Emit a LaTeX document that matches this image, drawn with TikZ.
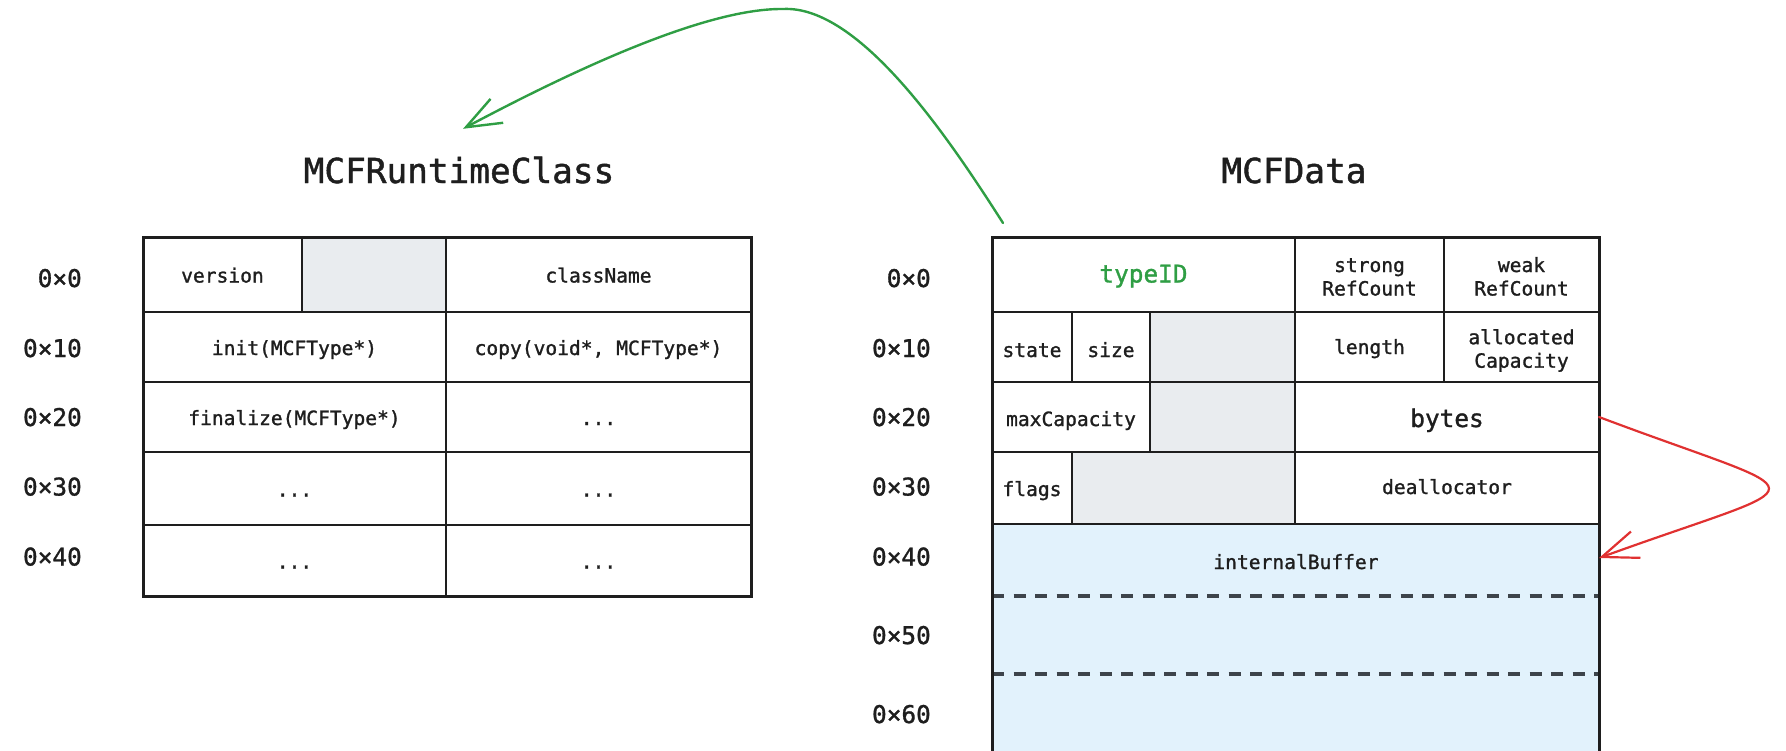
\documentclass[tikz,border=0pt]{standalone}
\usepackage{fontspec}
\usetikzlibrary{arrows.meta}

\newfontfamily\codefont{DejaVu Sans Mono}[FakeBold=1.3]
\newcommand{\fTitle}{\codefont\fontsize{34.4}{40}\selectfont}
\newcommand{\fLabel}{\codefont\fontsize{24.4}{29}\selectfont}
\newcommand{\fCell}{\codefont\fontsize{19.6}{23.5}\selectfont}
\newcommand{\fBig}{\codefont\fontsize{24.4}{29}\selectfont}

\definecolor{ink}{HTML}{1E1E1E}
\definecolor{greyfill}{HTML}{E9ECEF}
\definecolor{bufblue}{HTML}{E2F2FC}
\definecolor{linkgreen}{HTML}{2F9E44}
\definecolor{linkred}{HTML}{E03131}
\definecolor{dashgrey}{HTML}{3D444B}

% one table cell: [options]{name}{x1}{y1}{x2}{y2}{text}
\newcommand{\mcell}[7][]{%
  \node[cell,minimum width={#5-#3},minimum height={#6-#4},#1] (#2)
    at ({(#3+#5)/2},{(#4+#6)/2}) {#7};}

\begin{document}
\begin{tikzpicture}[x=1pt,y=-1pt,
  cell/.style={draw=ink,line width=2.4pt,inner sep=0pt,outer sep=0pt,
    font=\fCell,text=ink,align=center,text height=16pt,text depth=0pt},
  greycell/.style={cell,fill=greyfill},
  rowlabel/.style={font=\fLabel,text=ink,inner sep=0pt,anchor=base east},
  title/.style={font=\fTitle,text=ink,inner sep=0pt,anchor=base,
    text height=26pt,text depth=8pt},
  plain/.style={font=\fCell,text=ink,inner sep=0pt,anchor=base},
  edge/.style={draw=ink,line width=3pt},
  dashline/.style={draw=dashgrey,line width=3.2pt,dash pattern=on 12pt off 9.5pt},
  greenlink/.style={draw=linkgreen,line width=2.4pt,line cap=round,line join=round,
    -{Straight Barb[length=35pt,width=27pt]}},
  redlink/.style={draw=linkred,line width=2.2pt,line cap=round,line join=round,
    -{Straight Barb[length=36pt,width=28pt]}},
]
\useasboundingbox (0,0) rectangle (1786,750);

% ---------------- titles ----------------
\node[title] (rtitle) at (459,183) {MCFRuntimeClass};
\node[title] (dtitle) at (1294,183) {MCFData};

% ---------------- MCFRuntimeClass ----------------
\mcell{ver}{143}{237}{302}{312}{version}
\mcell[greycell]{lpad}{302}{237}{446}{312}{}
\mcell{cname}{446}{237}{751}{312}{className}
\mcell{init}{143}{312}{446}{382}{init(MCFType*)}
\mcell{copy}{446}{312}{751}{382}{copy(void*, MCFType*)}
\mcell{fin}{143}{382}{446}{452}{finalize(MCFType*)}
\mcell{lrb}{446}{382}{751}{452}{...}
\mcell{lsa}{143}{452}{446}{525}{...}
\mcell{lsb}{446}{452}{751}{525}{...}
\mcell{lta}{143}{525}{446}{596}{...}
\mcell{ltb}{446}{525}{751}{596}{...}
\draw[edge] (ver.north west) rectangle (ltb.south east);

\node[rowlabel] (la) at (82,287) {0×0};
\node[rowlabel] (lb) at (82,357) {0×10};
\node[rowlabel] (lc) at (82,426) {0×20};
\node[rowlabel] (ld) at (82,495.5) {0×30};
\node[rowlabel] (le) at (82,565.5) {0×40};

% ---------------- MCFData ----------------
\mcell[font=\fBig,text=linkgreen]{typeid}{992}{237}{1295}{312}{typeID}
\mcell[text height=42pt,text depth=0pt]{strong}{1295}{237}{1444}{312}{strong\\RefCount}
\mcell[text height=42pt,text depth=0pt]{weak}{1444}{237}{1599}{312}{weak\\RefCount}
\mcell[text height=20pt]{state}{992}{312}{1072}{382}{state}
\mcell[text height=20pt]{size}{1072}{312}{1150}{382}{size}
\mcell[greycell]{rpada}{1150}{312}{1295}{382}{}
\mcell[text height=14pt]{length}{1295}{312}{1444}{382}{length}
\mcell[text height=41.4pt,text depth=0pt]{alloc}{1444}{312}{1599}{382}{allocated\\Capacity}
\mcell[text height=18pt]{maxcap}{992}{382}{1150}{452}{maxCapacity}
\mcell[greycell]{rpadb}{1150}{382}{1295}{452}{}
\mcell[font=\fBig,text height=20pt]{bytes}{1295}{382}{1599}{452}{bytes}
\mcell{flags}{992}{452}{1072}{524}{flags}
\mcell[greycell]{rpadc}{1072}{452}{1295}{524}{}
\mcell[text height=12pt]{dealloc}{1295}{452}{1599}{524}{deallocator}

% inline buffer, running on past the lower edge
\mcell[fill=bufblue,draw=none]{buf}{992}{524}{1599}{760}{}
\node[plain] (ibuf) at (1296,569) {internalBuffer};
\draw[dashline] (buf.west |- 0,596) -- (buf.east |- 0,596);
\draw[dashline] (buf.west |- 0,674) -- (buf.east |- 0,674);
\draw[edge] (buf.south west) -- (typeid.north west) -- (weak.north east) -- (buf.south east);
\draw[draw=ink,line width=2.4pt] (buf.north west) -- (buf.north east);

\node[rowlabel] (ra) at (931,287) {0×0};
\node[rowlabel] (rb) at (931,357) {0×10};
\node[rowlabel] (rc) at (931,426) {0×20};
\node[rowlabel] (rd) at (931,495.5) {0×30};
\node[rowlabel] (re) at (931,565.5) {0×40};
\node[rowlabel] (rf) at (931,644) {0×50};
\node[rowlabel] (rg) at (931,723) {0×60};

% ---------------- pointers ----------------
\draw[greenlink] ([shift={(11pt,14pt)}]typeid.north west)
  .. controls (950,140) and (860,5) .. (783,9)
  .. controls (700,8) and (555,80) .. ([shift={(4pt,28pt)}]rtitle.north);
\draw[redlink] (bytes.east)
  .. controls (1825,502) and (1825,476) .. ([yshift=-34pt]buf.north east);
\end{tikzpicture}
\end{document}
